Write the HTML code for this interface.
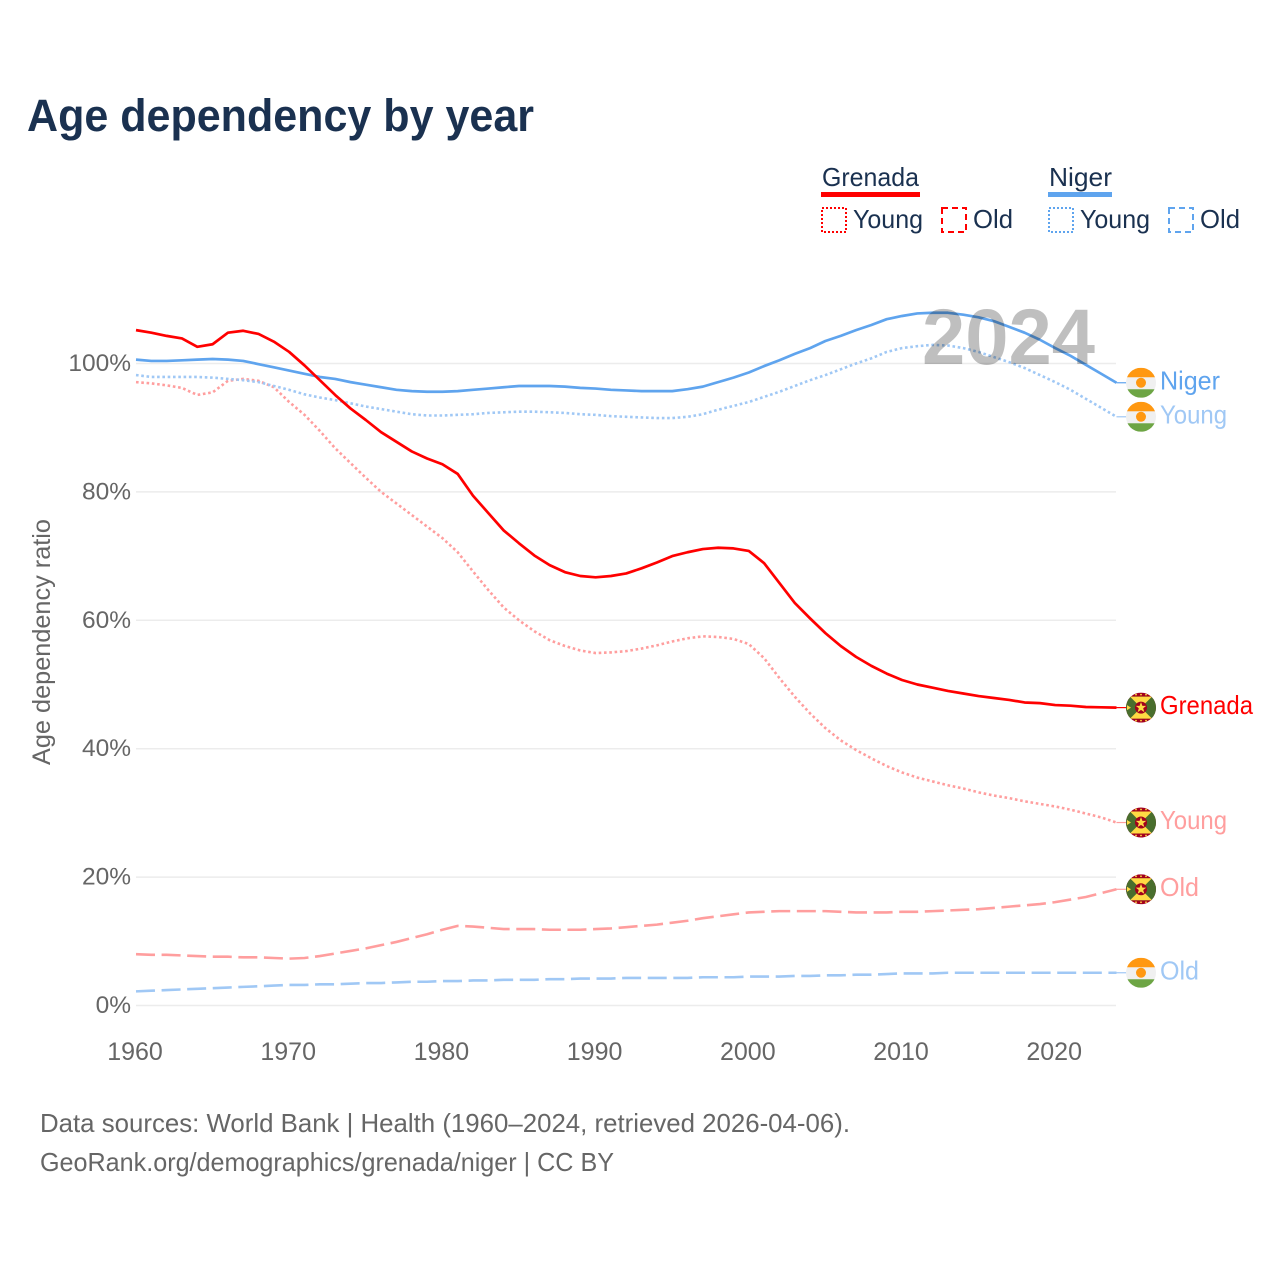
<!DOCTYPE html>
<html lang="en">
<head>
<meta charset="utf-8">
<title>Age dependency by year</title>
<style>
html,body{margin:0;padding:0;background:#fff;}
svg{display:block;font-family:"Liberation Sans",sans-serif;}
</style>
</head>
<body>
<svg id="chart" xmlns="http://www.w3.org/2000/svg" width="1280" height="1280" viewBox="0 0 1280 1280">
  <defs>
    <clipPath id="flag-clip"><circle cx="0" cy="0" r="15"></circle></clipPath>
  </defs>
  <rect x="0" y="0" width="1280" height="1280" fill="#fff"></rect>
  <text x="27" y="131" font-size="45" font-weight="700" fill="#1a3150" textLength="507" lengthAdjust="spacingAndGlyphs">Age dependency by year</text>

  <g font-size="26" fill="#1a3150">
    <text x="822" y="186" textLength="97" lengthAdjust="spacingAndGlyphs">Grenada</text>
    <rect x="821" y="192" width="99" height="5" fill="#ff0000"></rect>
    <rect x="822" y="208" width="24" height="24" fill="none" stroke="#ff0000" stroke-width="2" stroke-dasharray="2 2"></rect>
    <text x="853" y="228" textLength="70" lengthAdjust="spacingAndGlyphs">Young</text>
    <rect x="942" y="208" width="24" height="24" fill="none" stroke="#ff0000" stroke-width="2" stroke-dasharray="6 4"></rect>
    <text x="973" y="228" textLength="40" lengthAdjust="spacingAndGlyphs">Old</text>
    <text x="1049" y="186" textLength="63" lengthAdjust="spacingAndGlyphs">Niger</text>
    <rect x="1048" y="192" width="64" height="5" fill="#5fa4ee"></rect>
    <rect x="1049" y="208" width="24" height="24" fill="none" stroke="#5fa4ee" stroke-width="2" stroke-dasharray="2 2"></rect>
    <text x="1080" y="228" textLength="70" lengthAdjust="spacingAndGlyphs">Young</text>
    <rect x="1169" y="208" width="24" height="24" fill="none" stroke="#5fa4ee" stroke-width="2" stroke-dasharray="6 4"></rect>
    <text x="1200" y="228" textLength="40" lengthAdjust="spacingAndGlyphs">Old</text>
  </g>

  <g id="grid"></g>
  <g id="y-ticks"></g>
  <g id="x-ticks"></g>
  <g id="series"></g>

  <text x="922" y="364" font-size="79" font-weight="700" fill="#000" fill-opacity="0.25" textLength="173" lengthAdjust="spacingAndGlyphs">2024</text>

  <g id="end-labels"></g>

  <text transform="translate(50,642) rotate(-90)" text-anchor="middle" font-size="25" fill="#666" textLength="246" lengthAdjust="spacingAndGlyphs">Age dependency ratio</text>

  <text x="40" y="1132" font-size="26" fill="#666" textLength="810" lengthAdjust="spacingAndGlyphs">Data sources: World Bank | Health (1960–2024, retrieved 2026-04-06).</text>
  <text x="40" y="1171" font-size="26" fill="#666" textLength="574" lengthAdjust="spacingAndGlyphs">GeoRank.org/demographics/grenada/niger | CC BY</text>
</svg>

<script>
const startYear = 1960;
const yTickValues = [0, 20, 40, 60, 80, 100];
const yTickLabels = ["0%", "20%", "40%", "60%", "80%", "100%"];
const xTickValues = [1960, 1970, 1980, 1990, 2000, 2010, 2020];
const xTickLabels = ["1960", "1970", "1980", "1990", "2000", "2010", "2020"];

const grenadaTotal = [
  105.2,104.8,104.3,103.9,102.6,103.0,104.8,105.1,104.6,103.4,
  101.8,99.7,97.4,95.1,93.0,91.2,89.3,87.8,86.3,85.2,
  84.3,82.8,79.4,76.7,74.0,72.0,70.1,68.6,67.5,66.9,
  66.7,66.9,67.3,68.1,69.0,70.0,70.6,71.1,71.3,71.2,
  70.8,68.9,65.8,62.7,60.3,58.0,56.0,54.3,52.9,51.7,
  50.7,50.0,49.5,49.0,48.6,48.2,47.9,47.6,47.2,47.1,
  46.8,46.7,46.5,46.45,46.4
];
const grenadaYoung = [
  97.1,96.9,96.6,96.2,95.1,95.5,97.3,97.6,97.3,96.3,
  94.0,92.0,89.5,86.8,84.5,82.2,80.0,78.2,76.4,74.6,
  72.8,70.6,67.6,64.7,62.0,60.0,58.3,56.9,56.0,55.3,
  54.9,55.0,55.2,55.6,56.1,56.7,57.2,57.5,57.4,57.1,
  56.3,54.1,51.0,48.1,45.5,43.2,41.3,39.8,38.5,37.3,
  36.3,35.5,34.9,34.3,33.8,33.2,32.7,32.3,31.8,31.4,
  31.0,30.5,29.9,29.3,28.5
];
const grenadaOld = [
  8.0,7.9,7.9,7.8,7.7,7.6,7.6,7.5,7.5,7.4,
  7.3,7.4,7.7,8.1,8.5,8.9,9.4,9.9,10.5,11.1,
  11.8,12.4,12.3,12.1,11.9,11.9,11.9,11.8,11.8,11.8,
  11.9,12.0,12.2,12.4,12.6,12.9,13.2,13.6,13.9,14.2,
  14.5,14.6,14.7,14.7,14.7,14.7,14.6,14.5,14.5,14.5,
  14.6,14.6,14.7,14.8,14.9,15.0,15.2,15.4,15.6,15.8,
  16.1,16.5,16.9,17.5,18.1
];
const nigerTotal = [
  100.6,100.4,100.4,100.5,100.6,100.7,100.6,100.4,99.9,99.4,
  98.9,98.4,97.9,97.6,97.1,96.7,96.3,95.9,95.7,95.6,
  95.6,95.7,95.9,96.1,96.3,96.5,96.5,96.5,96.4,96.2,
  96.1,95.9,95.8,95.7,95.7,95.7,96.0,96.4,97.1,97.8,
  98.6,99.6,100.5,101.5,102.4,103.5,104.3,105.2,106.0,106.9,
  107.4,107.8,107.9,107.9,107.6,107.2,106.6,105.7,104.8,103.7,
  102.4,101.2,99.8,98.4,97.0
];
const nigerYoung = [
  98.2,97.9,97.9,97.9,97.9,97.8,97.6,97.4,97.1,96.5,
  95.9,95.2,94.7,94.3,93.8,93.3,92.9,92.5,92.1,91.9,
  91.9,92.0,92.1,92.3,92.4,92.5,92.5,92.4,92.3,92.1,
  92.0,91.8,91.7,91.6,91.5,91.5,91.7,92.1,92.8,93.4,
  94.0,94.8,95.6,96.5,97.4,98.2,99.1,100.0,100.8,101.8,
  102.4,102.7,102.9,102.8,102.4,101.8,101.0,100.2,99.3,98.2,
  97.1,95.9,94.5,93.1,91.7
];
const nigerOld = [
  2.2,2.3,2.4,2.5,2.6,2.7,2.8,2.9,3.0,3.1,
  3.2,3.2,3.3,3.3,3.4,3.5,3.5,3.6,3.7,3.7,
  3.8,3.8,3.9,3.9,4.0,4.0,4.0,4.1,4.1,4.2,
  4.2,4.2,4.3,4.3,4.3,4.3,4.3,4.4,4.4,4.4,
  4.5,4.5,4.5,4.6,4.6,4.7,4.7,4.8,4.8,4.9,
  5.0,5.0,5.0,5.1,5.1,5.1,5.1,5.1,5.1,5.1,
  5.1,5.1,5.1,5.1,5.1
];

const SVG_NS = "http://www.w3.org/2000/svg";
const RED = "#ff0000", BLUE = "#5fa4ee", RED_LIGHT = "#ff9e9e", BLUE_LIGHT = "#a0c8f5";

function xScale(year) { return 136 + (year - 1960) * 15.32; }
function yScale(v) { return 1005.5 - v * 6.42; }

function make(tag, attrs, parent) {
  const el = document.createElementNS(SVG_NS, tag);
  for (const k in attrs) el.setAttribute(k, attrs[k]);
  parent.appendChild(el);
  return el;
}

const gridG = document.getElementById("grid");
const yG = document.getElementById("y-ticks");
const xG = document.getElementById("x-ticks");
const seriesG = document.getElementById("series");
const endG = document.getElementById("end-labels");

yTickValues.forEach(function (v, i) {
  const line = make("line", { x1: 136, x2: 1116, y1: yScale(v), y2: yScale(v), stroke: "#ececec", "stroke-width": 1.5 }, gridG);
  
  
  const t = make("text", { x: 131, y: yScale(v) + 7.5, "text-anchor": "end", "font-size": 24.5, fill: "#666" }, yG);
  t.textContent = yTickLabels[i];
  
  
});

xTickValues.forEach(function (yr, i) {
  const t = make("text", { x: xScale(yr) - 1, y: 1060, "text-anchor": "middle", "font-size": 25, fill: "#666" }, xG);
  t.textContent = xTickLabels[i];
  
  
});

function drawSeries(values, color, dash, width) {
  const pts = values.map(function (v, i) { return xScale(startYear + i).toFixed(2) + "," + yScale(v).toFixed(2); });
  const p = make("polyline", { points: pts.join(" "), fill: "none", stroke: color, "stroke-width": width, "stroke-linejoin": "round", "stroke-dasharray": dash }, seriesG);
  
  
  const last = values[values.length - 1];
  const lead = make("line", { x1: xScale(startYear + values.length - 1), x2: 1127, y1: yScale(last), y2: yScale(last), stroke: color, "stroke-width": 1.2 }, seriesG);
  
  
}

drawSeries(nigerOld, BLUE_LIGHT, "19 6.6", 2.6);
drawSeries(grenadaOld, RED_LIGHT, "19 6.6", 2.6);
drawSeries(grenadaYoung, RED_LIGHT, "2.6 2.7", 2.6);
drawSeries(nigerYoung, BLUE_LIGHT, "2.6 2.7", 2.6);
drawSeries(nigerTotal, BLUE, "none", 2.7);
drawSeries(grenadaTotal, RED, "none", 2.7);

function drawNigerFlag(g) {
  make("rect", { x: -15, y: -15, width: 30, height: 30, fill: "#f0f0f0" }, g);
  make("rect", { x: -15, y: -15, width: 30, height: 9.5, fill: "#ff9811" }, g);
  make("rect", { x: -15, y: 6.5, width: 30, height: 8.5, fill: "#6da544" }, g);
  make("circle", { cx: 0, cy: 0, r: 5, fill: "#ff9811" }, g);
}

function drawGrenadaFlag(g) {
  make("rect", { x: -15, y: -15, width: 30, height: 30, fill: "#a2001d" }, g);
  make("rect", { x: -15, y: -11, width: 30, height: 22, fill: "#496e2d" }, g);
  make("polygon", { points: "-11,-11 11,-11 0,0", fill: "#ffda44" }, g);
  make("polygon", { points: "-11,11 11,11 0,0", fill: "#ffda44" }, g);
  make("polygon", { points: "-14,-2.5 -10,0 -14,2.5", fill: "#ffda44" }, g);
  make("circle", { cx: 0, cy: 0, r: 6, fill: "#a2001d" }, g);
  make("polygon", { points: "0,-5.5 1.4,-1.7 5.2,-1.7 2.2,0.7 3.3,4.5 0,2.3 -3.3,4.5 -2.2,0.7 -5.2,-1.7 -1.4,-1.7", fill: "#ffda44" }, g);
  make("circle", { cx: -5, cy: -13, r: 0.9, fill: "#ffda44" }, g);
  make("circle", { cx: 0, cy: -13, r: 0.9, fill: "#ffda44" }, g);
  make("circle", { cx: 5, cy: -13, r: 0.9, fill: "#ffda44" }, g);
  make("circle", { cx: -5, cy: 13, r: 0.9, fill: "#ffda44" }, g);
  make("circle", { cx: 0, cy: 13, r: 0.9, fill: "#ffda44" }, g);
  make("circle", { cx: 5, cy: 13, r: 0.9, fill: "#ffda44" }, g);
}

function drawEnd(values, name, color, flagFn, labelWidth) {
  const cy = yScale(values[values.length - 1]);
  const g = make("g", { transform: "translate(1141," + cy.toFixed(2) + ")", "clip-path": "url(#flag-clip)" }, endG);
  
  
  flagFn(g);
  const t = make("text", { x: 1160, y: cy + 6.5, "font-size": 26, fill: color, textLength: labelWidth, lengthAdjust: "spacingAndGlyphs" }, endG);
  t.textContent = name;
  
  
}

drawEnd(nigerTotal, "Niger", BLUE, drawNigerFlag, 60);
drawEnd(nigerYoung, "Young", BLUE_LIGHT, drawNigerFlag, 67);
drawEnd(nigerOld, "Old", BLUE_LIGHT, drawNigerFlag, 39);
drawEnd(grenadaTotal, "Grenada", RED, drawGrenadaFlag, 93);
drawEnd(grenadaYoung, "Young", RED_LIGHT, drawGrenadaFlag, 67);
drawEnd(grenadaOld, "Old", RED_LIGHT, drawGrenadaFlag, 39);
</script>
</body>
</html>
